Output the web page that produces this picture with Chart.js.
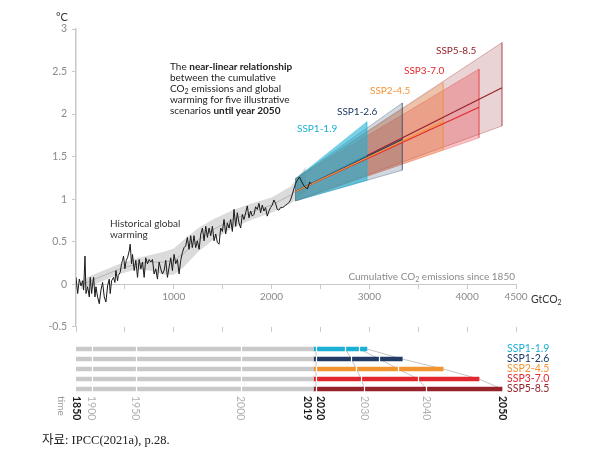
<!DOCTYPE html>
<html lang="ko">
<head>
<meta charset="UTF-8">
<title>Cumulative CO2 emissions and global warming</title>
<script src="https://cdn.jsdelivr.net/npm/chart.js@4.4.0/dist/chart.umd.min.js"></script>
<style>
  body { margin: 0; background: #fff; font-family: Lato, "Noto Sans", sans-serif; }
  #wrap { position: relative; width: 607px; height: 461px; overflow: hidden; }
  canvas { position: absolute; left: 0; }
  .t { position: absolute; white-space: nowrap; font-size: 10px; line-height: 11px; }
  .t sub { font-size: 7px; vertical-align: -2px; line-height: 0; }
</style>
</head>
<body>
<div id="wrap">
  <canvas id="main" width="607" height="338" style="top:0"></canvas>
  <canvas id="timeline" width="607" height="102" style="top:338px"></canvas>

  <div class="t" style="left:56px;top:11px;font-size:11px;color:#333">°C</div>
  <div class="t" style="left:170px;top:61px;color:#222">
    The <b>near-linear relationship</b><br>between the cumulative<br>CO<sub>2</sub> emissions and global<br>warming for five illustrative<br>scenarios <b>until year 2050</b>
  </div>
  <div class="t" style="left:110px;top:218px;color:#333">Historical global<br>warming</div>
  <div class="t" style="left:297px;top:123px;color:#1cb0d4">SSP1-1.9</div>
  <div class="t" style="left:337px;top:106px;color:#1f3b66">SSP1-2.6</div>
  <div class="t" style="left:370px;top:85px;color:#f39433">SSP2-4.5</div>
  <div class="t" style="left:404px;top:65px;color:#e2282f">SSP3-7.0</div>
  <div class="t" style="left:436px;top:45px;color:#96222a">SSP5-8.5</div>
  <div class="t" style="right:92px;top:271px;color:#8a8a8a">Cumulative CO<sub>2</sub> emissions since 1850</div>
  <div class="t" style="left:531px;top:294px;font-size:10.5px;color:#333">GtCO<sub>2</sub></div>
  <div class="t" style="left:42px;top:433px;font-size:12.5px;line-height:14px;color:#222;font-family:'Liberation Serif','Noto Sans CJK KR',serif">자료: IPCC(2021a), p.28.</div>
</div>

<script>
// scenarios
const scenarios = ['SSP1-1.9', 'SSP1-2.6', 'SSP2-4.5', 'SSP3-7.0', 'SSP5-8.5'];
const scenarioColors = ['#1cb0d4', '#1f3b66', '#f39433', '#e2282f', '#96222a'];
const bandAlpha = [0.6, 0.2, 0.25, 0.28, 0.2];

// projections (GtCO2 / degC), start of all fans then values at 2050
const projStart = 2245;
const projStartUpper = 1.24;
const projStartLower = 0.98;
const projStartMid = 1.09;
const emis2050 = [2975, 3337, 3755, 4122, 4357];
const upper2050 = [1.91, 2.13, 2.37, 2.53, 2.84];
const lower2050 = [1.22, 1.34, 1.58, 1.72, 1.86];
const mid2050 = [1.51, 1.70, 1.91, 2.08, 2.31];

// observed warming vs cumulative emissions
const histEmissions = [
  0, 17, 34, 51, 68, 78, 92, 102, 119, 136,
  146, 160, 170, 180, 194, 204, 221, 238, 255, 272,
  289, 306, 323, 340, 350, 364, 384, 398, 408, 425,
  432, 452, 466, 476, 486, 500, 514, 527, 544, 554,
  568, 578, 595, 612, 629, 646, 663, 680, 697, 714,
  731, 748, 765, 782, 799, 816, 833, 850, 867, 884,
  901, 918, 935, 952, 969, 986, 1003, 1020, 1037, 1054,
  1071, 1088, 1105, 1122, 1139, 1156, 1173, 1190, 1207, 1224,
  1241, 1259, 1276, 1293, 1310, 1327, 1344, 1361, 1378, 1395,
  1412, 1429, 1446, 1463, 1480, 1497, 1514, 1531, 1548, 1565,
  1582, 1599, 1616, 1633, 1650, 1667, 1684, 1701, 1718, 1735,
  1752, 1769, 1786, 1803, 1820, 1837, 1854, 1871, 1888, 1905,
  1922, 1939, 1956, 1973, 1990, 2007, 2024, 2041, 2058, 2075,
  2092, 2110, 2127, 2144, 2160, 2177, 2194, 2211, 2228, 2245,
  2262, 2286, 2310, 2335, 2367, 2390, 2408
];
const histWarming = [
  0.08, -0.11, 0.06, -0.02, 0.04, -0.07, 0.33, -0.11, -0.03, -0.15,
  0.08, -0.11, 0.0, 0.08, -0.15, -0.03, -0.15, -0.23, -0.07, 0.02,
  -0.15, -0.21, -0.02, 0.06, -0.11, 0.04, 0.08, 0.02, 0.16, 0.04,
  0.10, 0.14, 0.24, 0.28, 0.33, 0.18, 0.28, 0.31, 0.39, 0.47,
  0.24, 0.35, 0.16, 0.28, 0.08, 0.29, 0.18, 0.26, 0.08, 0.31,
  0.24, 0.29, 0.26, 0.29, 0.12, 0.18, 0.06, 0.26, 0.18, 0.12,
  0.16, 0.28, 0.08, 0.20, 0.31, 0.16, 0.35, 0.24, 0.29, 0.12,
  0.28, 0.37, 0.43, 0.45, 0.55, 0.41, 0.57, 0.43, 0.57, 0.43,
  0.51, 0.41, 0.59, 0.66, 0.51, 0.68, 0.55, 0.66, 0.57, 0.68,
  0.51, 0.59, 0.49, 0.47, 0.66, 0.62, 0.76, 0.59, 0.72, 0.66,
  0.76, 0.62, 0.88, 0.68, 0.84, 0.72, 0.66, 0.82, 0.76, 0.84,
  0.92, 0.78, 0.86, 0.80, 0.82, 0.91, 0.88, 0.95, 0.84, 0.93,
  0.86, 0.90, 0.80, 0.86, 0.90, 0.93, 0.99, 0.95, 0.88, 0.87,
  0.90, 0.90, 0.91, 0.93, 0.94, 0.96, 0.99, 1.05, 1.12, 1.18,
  1.22, 1.26, 1.20, 1.15, 1.12, 1.20, 1.18
];

// historical likely range (grey fan)
const histBandX = [50, 150, 300, 450, 600, 750, 900, 1000, 1100, 1250, 1400, 1600, 1800, 2000, 2200, 2350];
const histBandUpper = [0.04, 0.10, 0.17, 0.24, 0.30, 0.34, 0.38, 0.42, 0.52, 0.66, 0.76, 0.87, 0.95, 1.02, 1.15, 1.38];
const histBandLower = [-0.06, -0.02, 0.05, 0.12, 0.17, 0.16, 0.11, 0.11, 0.20, 0.38, 0.52, 0.66, 0.76, 0.84, 0.95, 1.08];
const histBandMid = [-0.01, 0.04, 0.11, 0.18, 0.23, 0.26, 0.26, 0.28, 0.36, 0.52, 0.64, 0.76, 0.85, 0.93, 1.05, 1.2];

const xTickLabels = [1000, 2000, 3000, 4000, 4500];

// timeline (cumulative emissions reached in given years)
const emis2019 = 2430;
const histYearMarks = [160, 612, 1684];           // 1900, 1950, 2000
const marks2020 = [2455, 2455, 2455, 2455, 2455];
const marks2030 = [2755, 2816, 2867, 2918, 2949];
const marks2040 = [2898, 3102, 3296, 3500, 3582];
const timeLabels = ['1850', '1900', '1950', '2000', '2019', '2020', '2030', '2040', '2050'];
const timeLabelValues = [0, 160, 612, 1684, 2430, 2455, 2949, 3582, 4357];
const timeLabelBold = [true, false, false, false, true, true, false, false, true];

function rgba(hex, a) {
  const n = parseInt(hex.slice(1), 16);
  return `rgba(${n >> 16},${(n >> 8) & 255},${n & 255},${a})`;
}
function polygon(xs, up, lo) {
  const pts = xs.map((x, i) => ({ x, y: up[i] }));
  for (let i = xs.length - 1; i >= 0; i--) pts.push({ x: xs[i], y: lo[i] });
  pts.push(pts[0]);
  return pts;
}

const datasets = [];
datasets.push({
  data: polygon(histBandX, histBandUpper, histBandLower),
  fill: 'shape', backgroundColor: 'rgba(190,190,190,0.55)', borderWidth: 0, order: 30
});
datasets.push({
  data: histBandX.map((x, i) => ({ x, y: histBandMid[i] })),
  borderColor: '#b4b4b4', borderWidth: 1, order: 29
});
scenarios.forEach((s, i) => {
  datasets.push({
    label: s + ' range',
    data: polygon([projStart, emis2050[i]], [projStartUpper, upper2050[i]], [projStartLower, lower2050[i]]),
    fill: 'shape', backgroundColor: rgba(scenarioColors[i], bandAlpha[i]),
    borderColor: rgba(scenarioColors[i], 0.4), borderWidth: 0.8, order: 10 + i
  });
});
const lineOrder = [4, 3, 2, 5, 6];
scenarios.forEach((s, i) => {
  datasets.push({
    label: s,
    data: [{ x: projStart, y: projStartMid }, { x: emis2050[i], y: mid2050[i] }],
    borderColor: scenarioColors[i], borderWidth: 1.2, order: lineOrder[i]
  });
});
datasets.push({
  label: 'Historical',
  data: histEmissions.map((x, i) => ({ x, y: histWarming[i] })),
  borderColor: '#1a1a1a', borderWidth: 1, order: 1
});

const axisGrey = '#c8c8c8';
const tickFont = { family: 'Lato', size: 10 };

new Chart(document.getElementById('main'), {
  type: 'line',
  data: { datasets },
  options: {
    responsive: false,
    animation: false,
    elements: { point: { radius: 0 }, line: { tension: 0 } },
    layout: { padding: { left: 0, right: 91, top: 29, bottom: 8 } },
    plugins: { legend: { display: false }, tooltip: { enabled: false } },
    scales: {
      x: {
        type: 'linear', min: 0, max: 4500, position: { y: 0 },
        ticks: {
          stepSize: 500, autoSkip: false, maxRotation: 0, padding: 3,
          color: '#8a8a8a', font: tickFont,
          callback: v => xTickLabels.includes(v) ? String(v) : ''
        },
        grid: { drawOnChartArea: false, tickLength: 4, color: axisGrey },
        border: { color: axisGrey, width: 1 }
      },
      xb: {
        type: 'linear', min: 0, max: 4500, position: { y: -0.5 },
        ticks: { stepSize: 500, display: false },
        grid: { drawOnChartArea: false, tickLength: 5, color: axisGrey },
        border: { display: false }
      },
      y: {
        min: -0.5, max: 3,
        ticks: {
          stepSize: 0.5, padding: 5, color: '#8a8a8a', font: { family: 'Lato', size: 10.5 },
          callback: v => String(v)
        },
        grid: { drawOnChartArea: false, tickLength: 4, color: axisGrey },
        border: { color: axisGrey, width: 1.5 },
        afterFit: s => { s.width = 76; }
      }
    }
  }
});

// timeline marks and labels
const timelinePlugin = {
  id: 'timelineMarks',
  beforeDatasetsDraw(chart) {
    const { ctx, scales: { x, y } } = chart;
    ctx.save();
    ctx.strokeStyle = '#c4c4c4';
    ctx.lineWidth = 1;
    [marks2020, marks2030, marks2040, emis2050].forEach(m => {
      ctx.beginPath();
      m.forEach((v, i) => {
        const px = x.getPixelForValue(v), py = y.getPixelForValue(i);
        if (i === 0) ctx.moveTo(px, py); else ctx.lineTo(px, py);
      });
      ctx.stroke();
    });
    ctx.restore();
  },
  afterDatasetsDraw(chart) {
    const { ctx, scales: { x, y } } = chart;
    ctx.save();
    ctx.strokeStyle = '#ffffff';
    ctx.lineWidth = 1.2;
    scenarios.forEach((s, i) => {
      const py = y.getPixelForValue(i);
      const cuts = histYearMarks.concat([marks2020[i], marks2030[i], marks2040[i]]);
      cuts.forEach(v => {
        const px = Math.round(x.getPixelForValue(v)) + 0.5;
        ctx.beginPath();
        ctx.moveTo(px, py - 3);
        ctx.lineTo(px, py + 3);
        ctx.stroke();
      });
      ctx.fillStyle = scenarioColors[i];
      ctx.font = '10.5px Lato';
      ctx.textAlign = 'left';
      ctx.textBaseline = 'middle';
      ctx.fillText(s, 507, py);
    });

    const top = chart.chartArea.bottom + 2;
    timeLabels.forEach((t, i) => {
      let px = x.getPixelForValue(timeLabelValues[i]);
      if (t === '2019') px -= 6;
      if (t === '2020') px += 4;
      ctx.save();
      ctx.translate(px, top);
      ctx.rotate(Math.PI / 2);
      ctx.font = (timeLabelBold[i] ? 'bold ' : '') + '10.5px Lato';
      ctx.fillStyle = timeLabelBold[i] ? '#1a1a1a' : '#b0b0b0';
      ctx.textAlign = 'left';
      ctx.textBaseline = 'middle';
      ctx.fillText(t, 0, 0);
      ctx.restore();
    });
    ctx.save();
    ctx.translate(61, top);
    ctx.rotate(Math.PI / 2);
    ctx.font = '10px Lato';
    ctx.fillStyle = '#999';
    ctx.textBaseline = 'middle';
    ctx.fillText('time', 0, 0);
    ctx.restore();
    ctx.restore();
  }
};

new Chart(document.getElementById('timeline'), {
  type: 'bar',
  data: {
    labels: scenarios,
    datasets: [
      { data: scenarios.map(() => [0, emis2019]), backgroundColor: '#c9c9c9', barThickness: 4, grouped: false },
      { data: emis2050.map(e => [emis2019, e]), backgroundColor: scenarioColors, barThickness: 4, grouped: false }
    ]
  },
  options: {
    indexAxis: 'y',
    responsive: false,
    animation: false,
    layout: { padding: { left: 76, right: 91, top: 6, bottom: 46 } },
    plugins: { legend: { display: false }, tooltip: { enabled: false } },
    scales: {
      x: { type: 'linear', min: 0, max: 4500, display: false },
      y: { display: false }
    }
  },
  plugins: [timelinePlugin]
});
</script>
</body>
</html>
